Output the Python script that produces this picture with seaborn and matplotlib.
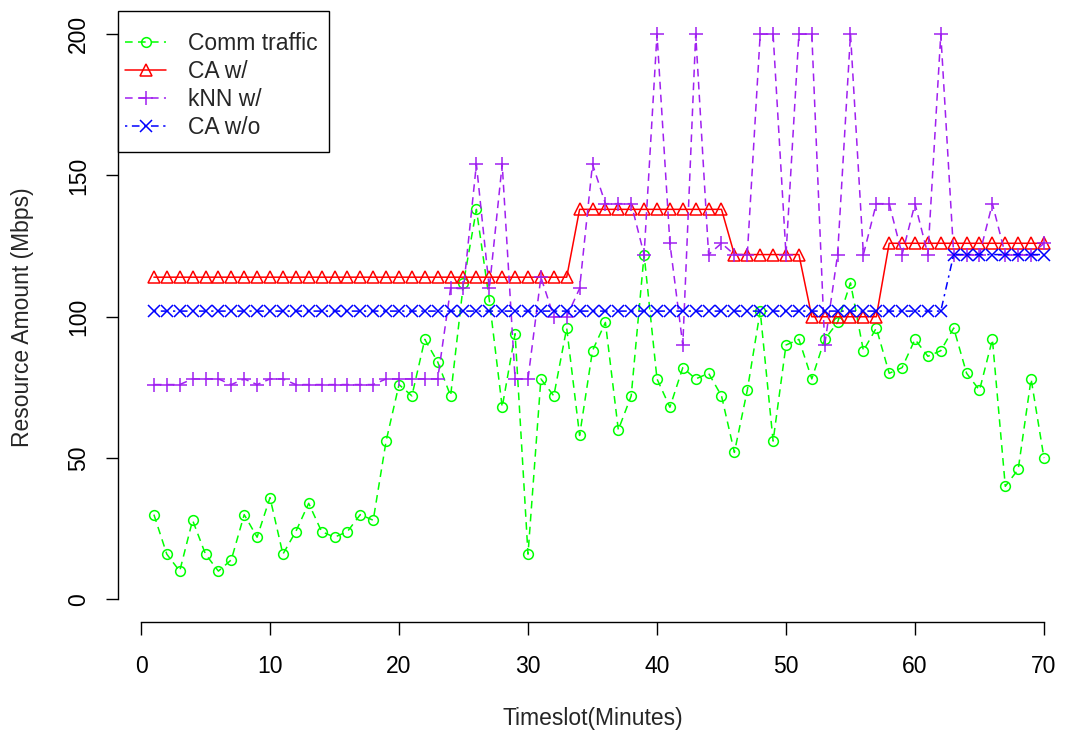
import matplotlib
matplotlib.use("Agg")
import matplotlib.pyplot as plt
from matplotlib.patches import Rectangle
import seaborn as sns
import pandas as pd

timeslots = list(range(1, 71))

comm_traffic = [30, 16, 10, 28, 16, 10, 14, 30, 22, 36,
                16, 24, 34, 24, 22, 24, 30, 28, 56, 76,
                72, 92, 84, 72, 112, 138, 106, 68, 94, 16,
                78, 72, 96, 58, 88, 98, 60, 72, 122, 78,
                68, 82, 78, 80, 72, 52, 74, 102, 56, 90,
                92, 78, 92, 98, 112, 88, 96, 80, 82, 92,
                86, 88, 96, 80, 74, 92, 40, 46, 78, 50]

ca_with = [114, 114, 114, 114, 114, 114, 114, 114, 114, 114,
           114, 114, 114, 114, 114, 114, 114, 114, 114, 114,
           114, 114, 114, 114, 114, 114, 114, 114, 114, 114,
           114, 114, 114, 138, 138, 138, 138, 138, 138, 138,
           138, 138, 138, 138, 138, 122, 122, 122, 122, 122,
           122, 100, 100, 100, 100, 100, 100, 126, 126, 126,
           126, 126, 126, 126, 126, 126, 126, 126, 126, 126]

knn_with = [76, 76, 76, 78, 78, 78, 76, 78, 76, 78,
            78, 76, 76, 76, 76, 76, 76, 76, 78, 78,
            78, 78, 78, 110, 110, 154, 110, 154, 78, 78,
            114, 100, 100, 110, 154, 140, 140, 140, 122, 200,
            126, 90, 200, 122, 126, 122, 122, 200, 200, 122,
            200, 200, 90, 122, 200, 122, 140, 140, 122, 140,
            122, 200, 122, 122, 122, 140, 122, 122, 122, 126]

ca_without = [102, 102, 102, 102, 102, 102, 102, 102, 102, 102,
              102, 102, 102, 102, 102, 102, 102, 102, 102, 102,
              102, 102, 102, 102, 102, 102, 102, 102, 102, 102,
              102, 102, 102, 102, 102, 102, 102, 102, 102, 102,
              102, 102, 102, 102, 102, 102, 102, 102, 102, 102,
              102, 102, 102, 102, 102, 102, 102, 102, 102, 102,
              102, 102, 122, 122, 122, 122, 122, 122, 122, 122]

series_labels = ["Comm traffic", "CA w/", "kNN w/", "CA w/o"]
x_ticks = [0, 10, 20, 30, 40, 50, 60, 70]
y_ticks = [0, 50, 100, 150, 200]

df = pd.DataFrame({
    "t": timeslots,
    "comm": comm_traffic,
    "ca": ca_with,
    "knn": knn_with,
    "cawo": ca_without,
})

sns.set_style("ticks")
plt.rcParams["font.family"] = ["Liberation Sans", "DejaVu Sans"]
FS = 16.5

fig = plt.figure(figsize=(10.68, 7.36), dpi=100)
W, H = 1068, 736
left_px, right_px, top_px, bottom_px = 118, 1068, 11.5, 622
ax = fig.add_axes([left_px / W, 1 - bottom_px / H,
                   (right_px - left_px) / W, (bottom_px - top_px) / H])

styles = [
    ("comm", series_labels[0], "#00FF00", "o", 7, (0, (5, 3.5))),
    ("ca", series_labels[1], "#FF0000", "^", 8.5, "-"),
    ("knn", series_labels[2], "#A020F0", "+", 10.5, (0, (5, 3.5))),
    ("cawo", series_labels[3], "#0000FF", "x", 8, (0, (1.5, 3, 5, 3))),
]
for col, lab, c, mk, ms, ls in styles:
    sns.lineplot(data=df, x="t", y=col, ax=ax, color=c, linestyle=ls,
                 linewidth=1.1, marker=mk, markersize=ms,
                 markerfacecolor="none", markeredgecolor=c,
                 markeredgewidth=1.1, label=lab, sort=False)

px_per_unit = (1044 - 141) / 70.0
ax.set_xlim(-(141 - left_px) / px_per_unit, (right_px - 141) / px_per_unit)
ax.set_ylim(-8, 208)

for s in ["top", "right"]:
    ax.spines[s].set_visible(False)
ax.spines["left"].set_bounds(0, 200)
ax.spines["bottom"].set_bounds(0, 70)
for s in ["left", "bottom"]:
    ax.spines[s].set_color("black")
    ax.spines[s].set_linewidth(1.0)

ax.set_xticks(x_ticks)
ax.set_yticks(y_ticks)
ax.set_yticklabels([str(v) for v in y_ticks], rotation=90, va="center")
ax.tick_params(axis="both", direction="out", length=9, width=1.0,
               colors="black", labelsize=FS)
ax.tick_params(axis="x", pad=15)
ax.tick_params(axis="y", pad=11)

ax.set_xlabel("Timeslot(Minutes)", fontsize=FS, labelpad=21)
ax.set_ylabel("Resource Amount (Mbps)", fontsize=FS, labelpad=24)

# legend entries (no frame) + R-style box drawn separately
leg = ax.legend(loc="upper left", bbox_to_anchor=(125 / W, 1 - 32 / H),
                bbox_transform=fig.transFigure, borderaxespad=0,
                borderpad=0, fontsize=FS, frameon=False,
                handlelength=1.79, handletextpad=0.96,
                labelspacing=0.22, numpoints=1)
box = Rectangle((118 / W, 1 - 152 / H), (329 - 118) / W, (152 - 11.5) / H,
                transform=fig.transFigure, fill=True, facecolor="white",
                edgecolor="black", linewidth=1.0, zorder=4)
ax.add_artist(box)
box.set_clip_on(False)
leg.set_zorder(5)

fig.savefig("out.png", dpi=100)
